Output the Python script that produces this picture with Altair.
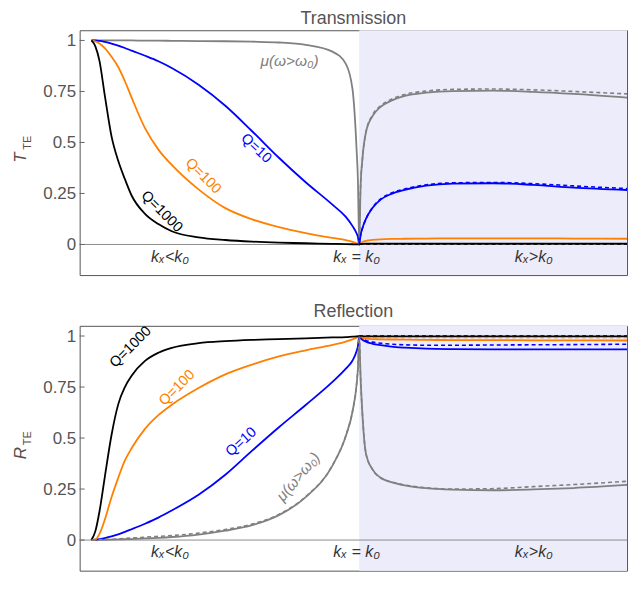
import altair as alt
import pandas as pd

FONT = "Liberation Sans"

# ---------------- data (x = kx/k0) ----------------
x_left = [0, 0.015, 0.03, 0.05, 0.075, 0.1, 0.125, 0.15, 0.2, 0.25, 0.3, 0.4,
          0.5, 0.6, 0.7, 0.8, 0.9, 0.95, 0.975, 0.99, 0.995, 1.0]
x_right = [1.005, 1.012, 1.025, 1.05, 1.08, 1.12, 1.17, 1.25, 1.35, 1.5, 1.65, 1.8, 2.0]

# Transmission, kx < k0
T_q1000_left = [1, 0.97, 0.90, 0.73, 0.53, 0.41, 0.32, 0.24, 0.15, 0.10, 0.065, 0.035,
                0.022, 0.014, 0.009, 0.006, 0.003, 0.002, 0.001, 0.0005, 0.0003, 0]
T_q100_left = [1, 0.995, 0.985, 0.962, 0.92, 0.87, 0.80, 0.72, 0.57, 0.465, 0.39, 0.27,
               0.178, 0.123, 0.085, 0.056, 0.032, 0.021, 0.013, 0.006, 0.004, 0]
T_q10_left = [1, 1.0, 0.998, 0.993, 0.985, 0.975, 0.963, 0.95, 0.925, 0.898, 0.865, 0.783,
              0.68, 0.555, 0.425, 0.305, 0.195, 0.135, 0.09, 0.055, 0.038, 0]
T_mu_left = [1, 1, 1, 1, 1, 1, 1, 1, 0.999, 0.999, 0.998, 0.997,
             0.996, 0.994, 0.99, 0.978, 0.945, 0.885, 0.76, 0.47, 0.32, 0]

# Transmission, kx > k0 (solid)
T_q1000_right = [0.002, 0.003, 0.004, 0.004, 0.004, 0.004, 0.004, 0.004, 0.004, 0.004, 0.004, 0.004, 0.004]
T_q100_right = [0.006, 0.012, 0.018, 0.022, 0.025, 0.027, 0.028, 0.029, 0.030, 0.030, 0.030, 0.029, 0.028]
T_q10_right = [0.045, 0.08, 0.125, 0.18, 0.22, 0.248, 0.268, 0.288, 0.298, 0.30, 0.292, 0.279, 0.267]
T_mu_right = [0.28, 0.42, 0.55, 0.63, 0.675, 0.705, 0.728, 0.744, 0.752, 0.754, 0.748, 0.738, 0.72]
# Transmission, kx > k0 (dashed)
T_q1000_right_d = [0.002, 0.002, 0.002, 0.002, 0.002, 0.002, 0.002, 0.002, 0.002, 0.002, 0.002, 0.002, 0.002]
T_q10_right_d = [0.045, 0.08, 0.125, 0.182, 0.223, 0.252, 0.272, 0.292, 0.302, 0.304, 0.298, 0.287, 0.274]
T_mu_right_d = [0.28, 0.42, 0.55, 0.635, 0.68, 0.712, 0.735, 0.752, 0.76, 0.762, 0.758, 0.75, 0.738]

# Reflection, kx < k0
R_q1000_left = [0, 0.045, 0.14, 0.31, 0.515, 0.665, 0.75, 0.805, 0.878, 0.918, 0.942, 0.965,
                0.975, 0.981, 0.985, 0.989, 0.993, 0.995, 0.997, 0.998, 0.999, 1.0]
R_q100_left = [0, 0.003, 0.03, 0.10, 0.21, 0.305, 0.39, 0.45, 0.545, 0.612, 0.663, 0.745,
               0.812, 0.86, 0.90, 0.93, 0.957, 0.973, 0.984, 0.992, 0.996, 1.0]
R_q10_left = [0, 0.002, 0.005, 0.01, 0.018, 0.028, 0.04, 0.053, 0.08, 0.11, 0.145, 0.222,
              0.32, 0.438, 0.553, 0.662, 0.775, 0.84, 0.88, 0.925, 0.95, 1.0]
R_mu_left = [0, 0, 0.001, 0.001, 0.002, 0.003, 0.004, 0.005, 0.008, 0.011, 0.015, 0.027,
             0.046, 0.073, 0.122, 0.21, 0.365, 0.51, 0.63, 0.76, 0.84, 1.0]
R_mu_left_d = [0, 0.001, 0.002, 0.003, 0.004, 0.006, 0.008, 0.01, 0.014, 0.018, 0.022, 0.034,
               0.052, 0.078, 0.126, 0.213, 0.367, 0.512, 0.632, 0.762, 0.842, 1.0]

# Reflection, kx > k0 (solid)
R_q1000_right = [0.999, 0.998, 0.998, 0.998, 0.998, 0.998, 0.998, 0.998, 0.998, 0.998, 0.998, 0.998, 0.998]
R_q100_right = [0.993, 0.99, 0.987, 0.985, 0.984, 0.983, 0.982, 0.981, 0.98, 0.98, 0.979, 0.979, 0.978]
R_q10_right = [0.99, 0.982, 0.972, 0.962, 0.955, 0.948, 0.943, 0.938, 0.936, 0.935, 0.935, 0.935, 0.935]
R_mu_right = [0.8, 0.615, 0.425, 0.345, 0.305, 0.284, 0.268, 0.254, 0.247, 0.244, 0.248, 0.255, 0.27]
# Reflection, kx > k0 (dashed)
R_q1000_right_d = [1.0, 1.0, 1.0, 1.0, 1.0, 1.0, 1.0, 1.0, 1.0, 1.0, 1.0, 1.0, 1.0]
R_q100_right_d = [0.996, 0.995, 0.994, 0.993, 0.993, 0.993, 0.993, 0.993, 0.993, 0.993, 0.993, 0.993, 0.993]
R_q10_right_d = [0.993, 0.986, 0.978, 0.97, 0.965, 0.96, 0.957, 0.955, 0.955, 0.956, 0.957, 0.958, 0.96]
R_mu_right_d = [0.8, 0.615, 0.425, 0.345, 0.305, 0.285, 0.27, 0.256, 0.25, 0.252, 0.262, 0.272, 0.288]

y_ticks = [0, 0.25, 0.5, 0.75, 1]

series_names = ["mu", "Q=10", "Q=100", "Q=1000"]
series_colors = ["#808080", "#0000ff", "#ff8000", "#000000"]

# annotation labels (text, x, y, angle, series)
T_labels = [("Q=10", 0.615, 0.47, 43, "Q=10"),
            ("Q=100", 0.417, 0.335, 45, "Q=100"),
            ("Q=1000", 0.262, 0.16, 45, "Q=1000")]
T_mu_label = ("μ(ω>ω₀)", 0.74, 0.897, 0)
R_labels = [("Q=10", 0.56, 0.48, 318, "Q=10"),
            ("Q=100", 0.32, 0.745, 315, "Q=100"),
            ("Q=1000", 0.147, 0.945, 315, "Q=1000")]
R_mu_label = ("μ(ω>ω₀)", 0.772, 0.31, 310)

k_labels = ["kₓ<k₀", "kₓ = k₀", "kₓ>k₀"]
k_label_x = [0.293, 0.99, 1.652]
k_label_y = -0.06

# ---------------- chart ----------------
W, H = 550, 246
xscale = alt.Scale(domain=[-0.044, 2.0], nice=False, zero=False)
yscale = alt.Scale(domain=[-0.15, 1.05], nice=False, zero=False)
yaxis = alt.Axis(values=y_ticks, labelExpr="datum.value + ''", title=None, domain=False,
                 ticks=False, grid=False, labelFontSize=17, labelColor="#555555",
                 labelFont=FONT, labelPadding=4)
color = alt.Color("series:N", scale=alt.Scale(domain=series_names, range=series_colors),
                  legend=None)


def X(f):
    return alt.X(f, scale=xscale, axis=None)


def Y(f):
    return alt.Y(f, scale=yscale, axis=yaxis)


def frame(parts):
    rows = []
    for name, xs, ys in parts:
        for xv, yv in zip(xs, ys):
            rows.append({"series": name, "x": xv, "y": yv})
    return pd.DataFrame(rows)


def panel(title, letter, solids, dashes, qlabels, mulabel):
    shade = alt.Chart(pd.DataFrame({"x0": [1.0], "x1": [2.0]})).mark_rect(
        color="#ececfb").encode(x=X("x0:Q"), x2="x1:Q", y=alt.value(0), y2=alt.value(H))
    zero = alt.Chart(pd.DataFrame({"y": [0]})).mark_rule(
        color="#8c8c8c", strokeWidth=1).encode(y=Y("y:Q"))
    ticks = alt.Chart(pd.DataFrame({"v": y_ticks})).mark_rule(
        color="#666666", strokeWidth=1).encode(y=Y("v:Q"), x=alt.value(0), x2=alt.value(5))
    solid = alt.Chart(frame(solids)).mark_line(
        strokeWidth=1.8, interpolate="monotone").encode(
        x=X("x:Q"), y=Y("y:Q"), color=color, detail="series:N")
    dashed = alt.Chart(frame(dashes)).mark_line(
        strokeWidth=1.6, strokeDash=[4, 3], interpolate="monotone").encode(
        x=X("x:Q"), y=Y("y:Q"), color=color, detail="series:N")
    qdf = pd.DataFrame(qlabels, columns=["text", "x", "y", "angle", "series"])
    qtext = alt.Chart(qdf).mark_text(font=FONT, fontSize=14.5, align="center",
                                     baseline="middle").encode(
        x=X("x:Q"), y=Y("y:Q"), text="text:N", color=color,
        angle=alt.Angle("angle:Q", scale=None))
    mdf = pd.DataFrame([mulabel], columns=["text", "x", "y", "angle"])
    mtext = alt.Chart(mdf).mark_text(font=FONT, fontSize=15.5, fontStyle="italic",
                                     align="center", baseline="middle",
                                     color="#808080").encode(
        x=X("x:Q"), y=Y("y:Q"), text="text:N", angle=alt.Angle("angle:Q", scale=None))
    kdf = pd.DataFrame({"text": k_labels, "x": k_label_x, "y": [k_label_y] * 3})
    ktext = alt.Chart(kdf).mark_text(font=FONT, fontSize=16, fontStyle="italic",
                                     align="center", baseline="middle",
                                     color="#333333").encode(
        x=X("x:Q"), y=Y("y:Q"), text="text:N")
    ytitle = alt.Chart(pd.DataFrame({"t": [letter]})).mark_text(
        font=FONT, fontSize=17, fontStyle="italic", angle=270, align="center",
        baseline="middle", color="#5a4c46").encode(
        x=alt.value(-59), y=alt.value(128), text="t:N")
    ysub = alt.Chart(pd.DataFrame({"t": ["TE"]})).mark_text(
        font=FONT, fontSize=11, angle=270, align="center", baseline="middle",
        color="#5a4c46").encode(x=alt.value(-52), y=alt.value(113), text="t:N")
    return alt.layer(shade, zero, ticks, solid, dashed, qtext, mtext, ktext,
                     ytitle, ysub).properties(
        width=W, height=H,
        title=alt.TitleParams(title, fontSize=18, font=FONT, color="#555555",
                              fontWeight="normal", anchor="middle", offset=2))


def full(left, right):
    return x_left + x_right, left + right


def dash(left, right_d):
    return [1.0] + x_right, [left[-1]] + right_d


T_solids = [("mu",) + full(T_mu_left, T_mu_right),
            ("Q=10",) + full(T_q10_left, T_q10_right),
            ("Q=100",) + full(T_q100_left, T_q100_right),
            ("Q=1000",) + full(T_q1000_left, T_q1000_right)]
T_dashes = [("mu",) + dash(T_mu_left, T_mu_right_d),
            ("Q=10",) + dash(T_q10_left, T_q10_right_d),
            ("Q=1000",) + dash(T_q1000_left, T_q1000_right_d)]

R_solids = [("mu",) + full(R_mu_left, R_mu_right),
            ("Q=10",) + full(R_q10_left, R_q10_right),
            ("Q=100",) + full(R_q100_left, R_q100_right),
            ("Q=1000",) + full(R_q1000_left, R_q1000_right)]
R_dashes = [("mu",) + full(R_mu_left_d, R_mu_right_d),
            ("Q=10",) + dash(R_q10_left, R_q10_right_d),
            ("Q=100",) + dash(R_q100_left, R_q100_right_d),
            ("Q=1000",) + dash(R_q1000_left, R_q1000_right_d)]

top = panel("Transmission", "T", T_solids, T_dashes, T_labels, T_mu_label)
bottom = panel("Reflection", "R", R_solids, R_dashes, R_labels, R_mu_label)

chart = alt.vconcat(top, bottom, spacing=26).properties(
    padding={"left": 3, "top": 0, "right": 0, "bottom": 0}
).configure_view(stroke="#555555", strokeWidth=1)

chart.save("out.html", embed_options={"renderer": "svg", "actions": False})
